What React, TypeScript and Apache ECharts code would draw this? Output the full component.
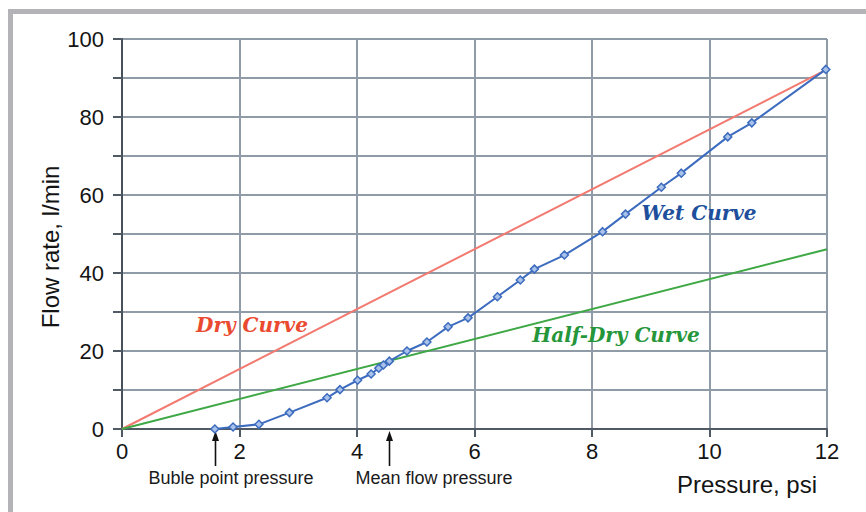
import React, { useEffect, useRef } from "react";
import * as echarts from "echarts";

const pressureWet = [1.58, 1.89, 2.33, 2.85, 3.49, 3.71, 4.01, 4.24, 4.37, 4.45, 4.55, 4.85, 5.19, 5.55, 5.89, 6.39, 6.78, 7.02, 7.53, 8.18, 8.57, 9.18, 9.52, 10.31, 10.72, 11.98];
const flowWet = [0, 0.5, 1.2, 4.2, 8.0, 10.1, 12.5, 14.1, 15.6, 16.4, 17.4, 20.0, 22.3, 26.2, 28.5, 33.9, 38.2, 41.0, 44.6, 50.6, 55.1, 62.0, 65.6, 74.9, 78.5, 92.2];
const pressureDry = [0, 12];
const flowDry = [0, 92.2];
const pressureHalf = [0, 12];
const flowHalf = [0, 46.1];
const xTicks = { min: 0, max: 12, step: 2 };
const yTicks = { min: 0, max: 100, step: 10, labelStep: 20 };
const bublePoint = 1.58;
const meanFlow = 4.55;

const zip = (a: number[], b: number[]) => a.map((v, i) => [v, b[i]]);

export default function App() {
  const ref = useRef<HTMLDivElement>(null);
  useEffect(() => {
    if (!ref.current) return;
    const chart = echarts.init(ref.current, undefined, { renderer: "svg" });
    const sans = "Liberation Sans";
    const serif = "DejaVu Serif";
    const grid = { left: 122, right: 39, top: 39, bottom: 83 };
    const option: any = {
      animation: false,
      backgroundColor: "#ffffff",
      grid,
      xAxis: {
        type: "value",
        min: xTicks.min,
        max: xTicks.max,
        interval: xTicks.step,
        axisLine: { show: true, onZero: false, lineStyle: { color: "#4f5a64", width: 2 } },
        axisTick: { show: true, length: 8, lineStyle: { color: "#4f5a64", width: 2 } },
        axisLabel: { fontFamily: sans, fontSize: 22, color: "#141414", margin: 11 },
        splitLine: { show: true, lineStyle: { color: "#8f9ba6", width: 2 } },
      },
      yAxis: {
        type: "value",
        min: yTicks.min,
        max: yTicks.max,
        interval: yTicks.step,
        axisLine: { show: true, onZero: false, lineStyle: { color: "#46515c", width: 2 } },
        axisTick: { show: true, length: 9, inside: false, lineStyle: { color: "#4f5a64", width: 2 } },
        axisLabel: {
          fontFamily: sans,
          fontSize: 22,
          color: "#141414",
          margin: 18,
          formatter: (v: number) => (v % yTicks.labelStep === 0 ? String(v) : ""),
        },
        splitLine: { show: true, lineStyle: { color: "#8f9ba6", width: 2 } },
      },
      series: [
        {
          name: "Dry Curve",
          type: "line",
          data: zip(pressureDry, flowDry),
          showSymbol: false,
          lineStyle: { color: "#f27a70", width: 2 },
          z: 3,
        },
        {
          name: "Half-Dry Curve",
          type: "line",
          data: zip(pressureHalf, flowHalf),
          showSymbol: false,
          lineStyle: { color: "#3ea845", width: 2 },
          z: 3,
        },
        {
          name: "Wet Curve",
          type: "line",
          data: zip(pressureWet, flowWet),
          symbol: "diamond",
          symbolSize: 8,
          itemStyle: { color: "#a9c2ea", borderColor: "#3d6cbf", borderWidth: 1.5 },
          lineStyle: { color: "#3d6cbf", width: 2 },
          z: 4,
        },
      ],
      graphic: [
        { type: "rect", shape: { x: 8, y: 9, width: 858, height: 5 }, style: { fill: "#b4b4b8" }, silent: true },
        { type: "rect", shape: { x: 8, y: 9, width: 5, height: 503 }, style: { fill: "#b4b4b8" }, silent: true },
        {
          type: "text",
          x: 50,
          y: 247,
          rotation: Math.PI / 2,
          style: { text: "Flow rate, l/min", font: `24px '${sans}'`, fill: "#141414", align: "center", verticalAlign: "middle" },
        },
        {
          type: "text",
          x: 747,
          y: 484,
          style: { text: "Pressure, psi", font: `24px '${sans}'`, fill: "#141414", align: "center", verticalAlign: "middle" },
        },
        {
          type: "text",
          x: 252,
          y: 325,
          style: { text: "Dry Curve", font: `italic bold 20px '${serif}'`, fill: "#ea4a30", align: "center", verticalAlign: "middle" },
        },
        {
          type: "text",
          x: 699,
          y: 213,
          style: { text: "Wet Curve", font: `italic bold 20px '${serif}'`, fill: "#1d4f9c", align: "center", verticalAlign: "middle" },
        },
        {
          type: "text",
          x: 616,
          y: 335,
          style: { text: "Half-Dry Curve", font: `italic bold 20px '${serif}'`, fill: "#26963a", align: "center", verticalAlign: "middle" },
        },
        {
          type: "text",
          x: 231,
          y: 478,
          style: { text: "Buble point pressure", font: `18px '${sans}'`, fill: "#1a1a1a", align: "center", verticalAlign: "middle" },
        },
        {
          type: "text",
          x: 434,
          y: 478,
          style: { text: "Mean flow pressure", font: `18px '${sans}'`, fill: "#1a1a1a", align: "center", verticalAlign: "middle" },
        },
      ],
    };
    chart.setOption(option);
    // arrows placed via the chart's own scale
    const addArrow = (xv: number) => {
      const p = chart.convertToPixel({ gridIndex: 0 }, [xv, 0]) as number[];
      const x = Math.round(p[0]) + 0.5;
      const tip = p[1] + 2;
      return [
        { type: "line", shape: { x1: x, y1: tip + 8, x2: x, y2: 466 }, style: { stroke: "#111", lineWidth: 1.6 } },
        { type: "polygon", shape: { points: [[x, tip], [x - 3.5, tip + 10], [x + 3.5, tip + 10]] }, style: { fill: "#111" } },
      ];
    };
    chart.setOption({ graphic: [...option.graphic, ...addArrow(bublePoint), ...addArrow(meanFlow)] }, { replaceMerge: ["graphic"] });
    return () => chart.dispose();
  }, []);
  return <div ref={ref} style={{ position: "fixed", left: 0, top: 0, width: 866, height: 512 }} />;
}
